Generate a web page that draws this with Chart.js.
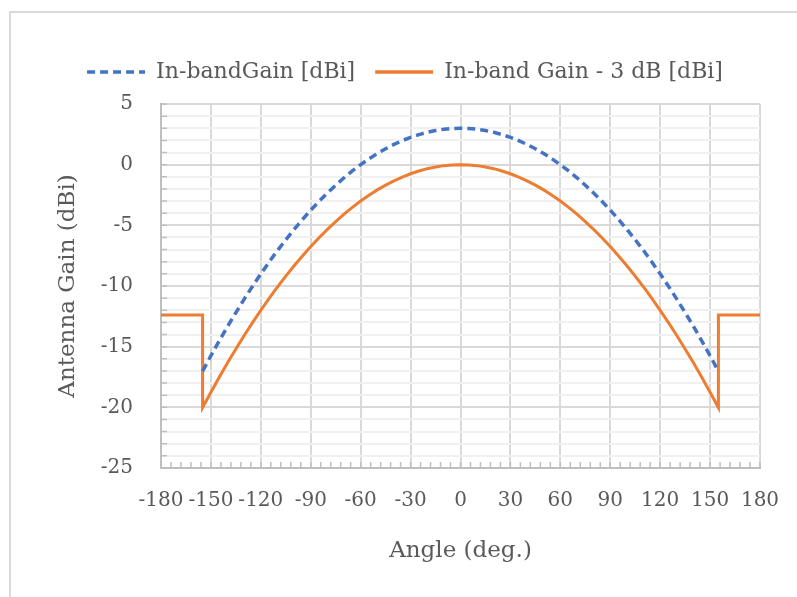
<!DOCTYPE html>
<html>
<head>
<meta charset="utf-8">
<script src="https://cdn.jsdelivr.net/npm/chart.js@4"></script>
<style>
  html, body { margin: 0; padding: 0; background: #fff; overflow: hidden; }
  #wrap { position: relative; width: 797px; height: 597px; }
  #frame {
    position: absolute; left: 9px; top: 11px; width: 820px; height: 620px;
    border: 2px solid #d9d9d9; box-sizing: border-box;
  }
  #chart { position: absolute; left: 0; top: 0; }
</style>
</head>
<body>
<div id="wrap">
  <div id="frame"></div>
  <canvas id="chart" width="797" height="597"></canvas>
</div>
<script>
// angles (deg) for the in-band curve
const angles = [
  -155, -150, -145, -140, -135, -130, -125, -120, -115, -110, -105, -100,
  -95, -90, -85, -80, -75, -70, -65, -60, -55, -50, -45, -40, -35, -30,
  -25, -20, -15, -10, -5, 0, 5, 10, 15, 20, 25, 30, 35, 40, 45, 50, 55,
  60, 65, 70, 75, 80, 85, 90, 95, 100, 105, 110, 115, 120, 125, 130, 135,
  140, 145, 150, 155
];
const inBandGain = [
  -17.02, -15.75, -14.52, -13.33, -12.19, -11.08, -10.02, -9.00, -8.02, -7.08, -6.19, -5.33,
  -4.52, -3.75, -3.02, -2.33, -1.69, -1.08, -0.52, 0.00, 0.48, 0.92, 1.31, 1.67, 1.98, 2.25,
  2.48, 2.67, 2.81, 2.92, 2.98, 3.00, 2.98, 2.92, 2.81, 2.67, 2.48, 2.25, 1.98, 1.67, 1.31, 0.92, 0.48,
  0.00, -0.52, -1.08, -1.69, -2.33, -3.02, -3.75, -4.52, -5.33, -6.19, -7.08, -8.02, -9.00, -10.02, -11.08, -12.19,
  -13.33, -14.52, -15.75, -17.02
];

// the -3 dB curve has flat side lobes and steps at +/-155
const angles3dB = [
  -180, -155, -155, -150, -145, -140, -135, -130, -125, -120, -115, -110, -105, -100,
  -95, -90, -85, -80, -75, -70, -65, -60, -55, -50, -45, -40, -35, -30,
  -25, -20, -15, -10, -5, 0, 5, 10, 15, 20, 25, 30, 35, 40, 45, 50, 55,
  60, 65, 70, 75, 80, 85, 90, 95, 100, 105, 110, 115, 120, 125, 130, 135,
  140, 145, 150, 155, 155, 180
];
const gainMinus3 = [
  -12.4, -12.4, -20.02, -18.75, -17.52, -16.33, -15.19, -14.08, -13.02, -12.00, -11.02, -10.08, -9.19, -8.33,
  -7.52, -6.75, -6.02, -5.33, -4.69, -4.08, -3.52, -3.00, -2.52, -2.08, -1.69, -1.33, -1.02, -0.75,
  -0.52, -0.33, -0.19, -0.08, -0.02, 0.00, -0.02, -0.08, -0.19, -0.33, -0.52, -0.75, -1.02, -1.33, -1.69, -2.08, -2.52,
  -3.00, -3.52, -4.08, -4.69, -5.33, -6.02, -6.75, -7.52, -8.33, -9.19, -10.08, -11.02, -12.00, -13.02, -14.08, -15.19,
  -16.33, -17.52, -18.75, -20.02, -12.4, -12.4
];

const xTicks = [-180, -150, -120, -90, -60, -30, 0, 30, 60, 90, 120, 150, 180];
const yTicks = [-25, -20, -15, -10, -5, 0, 5];

const TEXT = '#595959';
const FONT = '"DejaVu Serif", "Liberation Serif", serif';

function toPoints(xs, ys) {
  return xs.map((x, i) => ({ x: x, y: ys[i] }));
}

// Excel style minor tick marks drawn inside the plot area
const minorTicks = {
  id: 'minorTicks',
  beforeDatasetsDraw(chart) {
    const { ctx, chartArea, scales } = chart;
    ctx.save();
    ctx.strokeStyle = '#bfbfbf';
    ctx.lineWidth = 1.5;
    ctx.beginPath();
    for (let v = -180; v <= 180; v += 6) {
      const px = scales.x.getPixelForValue(v);
      ctx.moveTo(px, chartArea.bottom);
      ctx.lineTo(px, chartArea.bottom - 6);
    }
    for (let v = -25; v <= 5; v += 1) {
      const py = scales.y.getPixelForValue(v);
      ctx.moveTo(chartArea.left, py);
      ctx.lineTo(chartArea.left + 6, py);
    }
    ctx.stroke();
    ctx.restore();
  }
};

function renderChart() {
  const ctx = document.getElementById('chart');

  new Chart(ctx, {
    type: 'line',
    data: {
      datasets: [
        {
          label: 'In-bandGain [dBi]',
          data: toPoints(angles, inBandGain),
          borderColor: '#4472c4',
          backgroundColor: '#4472c4',
          borderWidth: 3.5,
          borderDash: [8, 5],
          pointRadius: 0,
          tension: 0
        },
        {
          label: 'In-band Gain - 3 dB [dBi]',
          data: toPoints(angles3dB, gainMinus3),
          borderColor: '#ed7d31',
          backgroundColor: '#ed7d31',
          borderWidth: 3,
          pointRadius: 0,
          tension: 0
        }
      ]
    },
    options: {
      responsive: false,
      animation: false,
      layout: { padding: { left: 50, right: 37, top: 41, bottom: 20 } },
      plugins: {
        tooltip: { enabled: false },
        // empty title used as a spacer between legend and plot
        title: {
          display: true,
          text: '',
          weight: 500,
          font: { size: 11, lineHeight: 1 },
          padding: 0
        },
        legend: {
          position: 'top',
          labels: {
            color: TEXT,
            font: { family: FONT, size: 22 },
            usePointStyle: true,
            pointStyle: 'line',
            pointStyleWidth: 58,
            boxHeight: 10,
            padding: 20,
            // point style legends lose the dash, put it back from the dataset
            generateLabels(chart) {
              const items = Chart.defaults.plugins.legend.labels.generateLabels(chart);
              items.forEach((item) => {
                const ds = chart.data.datasets[item.datasetIndex];
                item.lineDash = ds.borderDash || [];
                item.strokeStyle = ds.borderColor;
                item.lineWidth = 3.5;
              });
              return items;
            }
          }
        }
      },
      scales: {
        x: {
          type: 'linear',
          min: -180,
          max: 180,
          afterBuildTicks(scale) {
            scale.ticks = xTicks.map((v) => ({ value: v }));
          },
          afterFit(scale) {
            scale.height = 109;
            scale.paddingRight = 0;
          },
          ticks: {
            color: TEXT,
            font: { family: FONT, size: 20 },
            maxRotation: 0,
            autoSkip: false,
            padding: 21
          },
          grid: { color: '#d9d9d9', lineWidth: 2, drawTicks: false },
          border: { color: '#bfbfbf', width: 2 },
          title: {
            display: true,
            text: 'Angle (deg.)',
            color: TEXT,
            font: { family: FONT, size: 23 },
            padding: { top: 4, bottom: 12 }
          }
        },
        y: {
          type: 'linear',
          min: -25,
          max: 5,
          afterFit(scale) {
            scale.width = 111;
          },
          ticks: {
            stepSize: 1,
            autoSkip: false,
            color: TEXT,
            font: { family: FONT, size: 20 },
            padding: 28,
            callback: (v) => (yTicks.includes(v) ? v : '')
          },
          grid: {
            drawTicks: false,
            lineWidth: 2,
            color: (c) => (c.tick && yTicks.includes(c.tick.value) ? '#d9d9d9' : '#f0f0f0')
          },
          border: { color: '#bfbfbf', width: 2 },
          title: {
            display: true,
            text: 'Antenna Gain (dBi)',
            color: TEXT,
            font: { family: FONT, size: 23 },
            padding: { top: 4, bottom: 4 }
          }
        }
      }
    },
    plugins: [minorTicks]
  });
}

document.addEventListener('DOMContentLoaded', () => {
  renderChart();
});
</script>
</body>
</html>
